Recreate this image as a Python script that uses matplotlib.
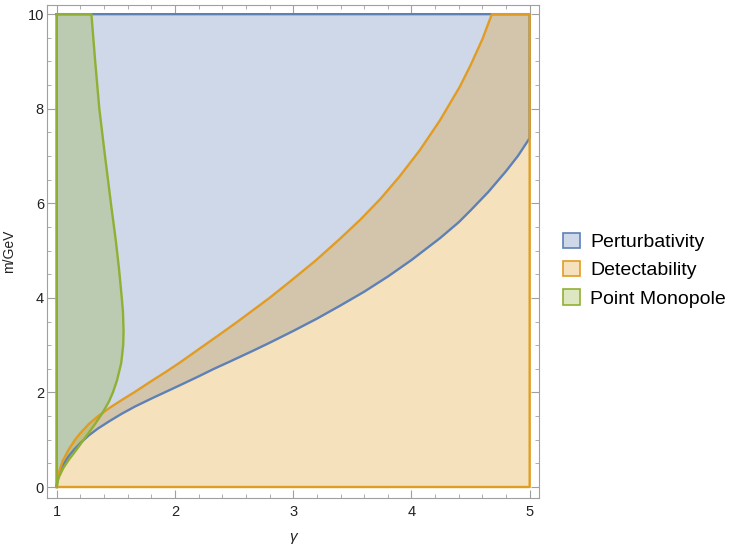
import matplotlib
matplotlib.use('Agg')
import matplotlib.pyplot as plt
from matplotlib.colors import to_rgba
from matplotlib.patches import Patch
from matplotlib.ticker import MultipleLocator

plt.rcParams['font.family'] = ['Liberation Sans', 'DejaVu Sans']

# boundary of the perturbativity region (region lies above this curve)
pert_x = [1.0, 1.005, 1.02, 1.05, 1.1, 1.15, 1.2, 1.27, 1.35, 1.45, 1.55, 1.66,
          1.8, 1.92, 2.04, 2.2, 2.33, 2.47, 2.65, 2.8, 3.0, 3.2, 3.4, 3.6, 3.8,
          4.0, 4.24, 4.4, 4.5, 4.65, 4.8, 4.9, 5.0]
pert_y = [0.0, 0.13, 0.27, 0.45, 0.65, 0.80, 0.93, 1.09, 1.24, 1.40, 1.55, 1.70,
          1.87, 2.01, 2.15, 2.34, 2.50, 2.66, 2.87, 3.05, 3.30, 3.56, 3.84, 4.13,
          4.45, 4.80, 5.26, 5.60, 5.85, 6.24, 6.68, 7.0, 7.38]

# boundary of the detectability region (region lies below this curve)
det_x = [1.0, 1.005, 1.02, 1.05, 1.1, 1.155, 1.2, 1.27, 1.35, 1.45, 1.55, 1.66,
         1.8, 1.92, 2.04, 2.21, 2.38, 2.52, 2.66, 2.8, 2.97, 3.19, 3.4, 3.57,
         3.74, 3.9, 4.07, 4.24, 4.41, 4.5, 4.6, 4.68]
det_y = [0.0, 0.16, 0.33, 0.55, 0.79, 1.0, 1.14, 1.33, 1.50, 1.68, 1.84, 2.01,
         2.24, 2.43, 2.63, 2.93, 3.23, 3.48, 3.74, 4.0, 4.34, 4.79, 5.26, 5.66,
         6.10, 6.57, 7.12, 7.75, 8.47, 8.92, 9.47, 10.0]

# boundary of the point monopole region (region lies left of this curve)
mono_y = [0.0, 0.1, 0.22, 0.4, 0.57, 0.8, 1.06, 1.3, 1.56, 1.8, 2.0, 2.26, 2.62,
          3.0, 3.3, 3.7, 4.0, 4.6, 5.2, 6.0, 7.0, 8.0, 9.0, 10.0]
mono_x = [1.0, 1.005, 1.02, 1.055, 1.1, 1.17, 1.245, 1.315, 1.385, 1.44, 1.475,
          1.51, 1.545, 1.562, 1.565, 1.56, 1.55, 1.527, 1.50, 1.458, 1.408, 1.36,
          1.325, 1.293]

labels = ['Perturbativity', 'Detectability', 'Point Monopole']
colors = ['#5E81B5', '#E19C24', '#8FB032']

xmin, xmax, ymin, ymax = 1, 5, 0, 10

# closed outlines of each region
regions = [
    ([xmin] + pert_x + [xmax, xmin], [ymax] + pert_y + [ymax, ymax]),
    (det_x + [xmax, xmax, xmin], det_y + [ymax, ymin, ymin]),
    ([xmin] + mono_x + [xmin], [ymin] + mono_y + [ymax]),
]

fig = plt.figure(figsize=(7.38, 5.48), dpi=100)
ax = fig.add_axes([0.0633, 0.0918, 0.6674, 0.8996])

for (rx, ry), c in zip(regions, colors):
    ax.fill(rx, ry, color=c, alpha=0.3, lw=0, zorder=1)
for (rx, ry), c in zip(regions, colors):
    ax.plot(rx + [rx[0]], ry + [ry[0]], color=c, lw=1.7, zorder=2,
            solid_joinstyle='round')

ax.set_xlim(0.915, 5.081)
ax.set_ylim(-0.226, 10.2)

ax.xaxis.set_major_locator(MultipleLocator(1))
ax.xaxis.set_minor_locator(MultipleLocator(0.2))
ax.yaxis.set_major_locator(MultipleLocator(2))
ax.yaxis.set_minor_locator(MultipleLocator(0.5))
ax.tick_params(which='both', direction='in', top=True, right=True,
               color='#a0a0a0', labelcolor='#222222', labelsize=10.5)
ax.tick_params(which='major', length=5.5, width=0.8)
ax.tick_params(which='minor', length=3, width=0.6)
ax.tick_params(axis='x', pad=5)
ax.tick_params(axis='y', pad=2)
for s in ax.spines.values():
    s.set_color('#a0a0a0')
    s.set_linewidth(0.8)

ax.set_xlabel('γ', fontsize=11, style='italic', color='#222222', labelpad=8.5)
ax.set_ylabel('m/GeV', fontsize=10, color='#222222', labelpad=8)

handles = [Patch(facecolor=to_rgba(c, 0.3), edgecolor=c, lw=1.2) for c in colors]
fig.legend(handles, labels, loc='center left', bbox_to_anchor=(0.763, 0.507),
           frameon=False, fontsize=14, handlelength=0.85, handleheight=0.85,
           handletextpad=0.55, labelspacing=0.5, borderpad=0, borderaxespad=0)

fig.savefig('out.png', dpi=100)
